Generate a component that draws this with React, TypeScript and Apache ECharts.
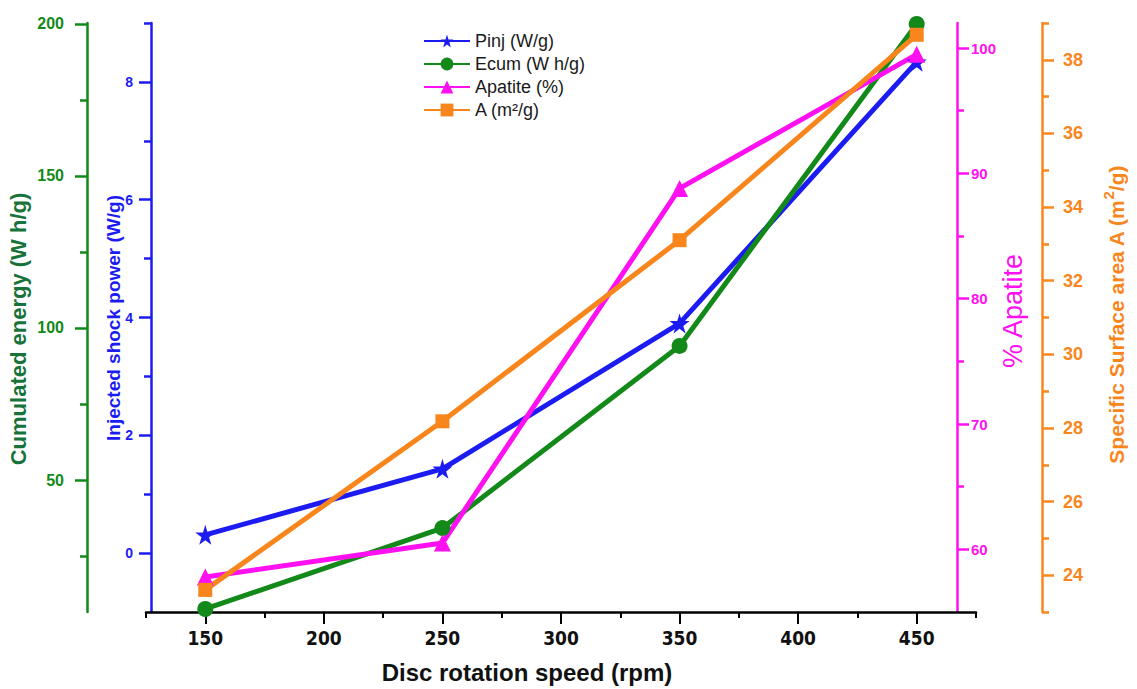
import React, { useEffect, useRef } from "react";
import * as echarts from "echarts";

const speeds = [150, 250, 350, 450];
const pinj = [0.31, 1.43, 3.9, 8.34];
const ecum = [7.6, 34.2, 94.1, 200];
const apatite = [57.8, 60.5, 88.8, 99.5];
const area = [23.6, 28.18, 33.1, 38.68];

const xLabels = [150, 200, 250, 300, 350, 400, 450];
const xMinor = [125, 175, 225, 275, 325, 375, 425, 475];
const pinjMajor = [0, 2, 4, 6, 8];
const pinjMinor = [1, 3, 5, 7, 9];
const ecumMajor = [50, 100, 150, 200];
const ecumMinor = [25, 75, 125, 175];
const apatiteMajor = [60, 70, 80, 90, 100];
const apatiteMinor = [65, 75, 85, 95];
const areaMajor = [24, 26, 28, 30, 32, 34, 36, 38];
const areaMinor = [23, 25, 27, 29, 31, 33, 35, 37, 39];

const BLUE = "#1c1cf2";
const GREEN = "#13891a";
const MAGENTA = "#ff10f0";
const ORANGE = "#f8861c";
const FONT = "'Liberation Sans', Arial, sans-serif";
const NARROW = "'Liberation Sans Narrow', 'DejaVu Sans Condensed', 'Liberation Sans', sans-serif";

const STAR = "path://M50,0 L61,35 L98,35 L68,57 L79,91 L50,70 L21,91 L32,57 L2,35 L39,35 Z";

function pairs(ys: number[]) {
  return speeds.map((x, i) => [x, ys[i]]);
}

function yAxisPair(opts: {
  position: string;
  offset: number;
  min: number;
  max: number;
  color: string;
  major: number[];
  minor: number[];
  margin: number;
  fontSize: number;
  fontWeight: string;
}) {
  const main = {
    type: "value",
    position: opts.position,
    offset: opts.offset,
    min: opts.min,
    max: opts.max,
    splitLine: { show: false },
    axisLine: { show: true, lineStyle: { color: opts.color, width: 2.5 } },
    axisTick: {
      show: true,
      length: 12,
      customValues: opts.major,
      lineStyle: { color: opts.color, width: 2.5 },
    },
    axisLabel: {
      show: true,
      customValues: opts.major,
      margin: opts.margin,
      color: opts.color,
      fontSize: opts.fontSize,
      fontWeight: opts.fontWeight,
      fontFamily: FONT,
    },
  };
  const minor = {
    type: "value",
    position: opts.position,
    offset: opts.offset,
    min: opts.min,
    max: opts.max,
    splitLine: { show: false },
    axisLine: { show: false },
    axisTick: {
      show: true,
      length: 7,
      customValues: opts.minor,
      lineStyle: { color: opts.color, width: 2.5 },
    },
    axisLabel: { show: false },
  };
  return [main, minor];
}

export default function App() {
  const ref = useRef<HTMLDivElement>(null);
  useEffect(() => {
    document.body.style.margin = "0";
    if (!ref.current) return;
    const chart = echarts.init(ref.current, null, { renderer: "svg" });
    const yAxes = [
      ...yAxisPair({ position: "left", offset: -5, min: -1, max: 9, color: BLUE, major: pinjMajor, minor: pinjMinor, margin: 18, fontSize: 14, fontWeight: "bold" }),
      ...yAxisPair({ position: "left", offset: 59, min: 6.6, max: 200.3, color: GREEN, major: ecumMajor, minor: ecumMinor, margin: 23, fontSize: 16, fontWeight: "bold" }),
      ...yAxisPair({ position: "right", offset: -19, min: 55, max: 102, color: MAGENTA, major: apatiteMajor, minor: apatiteMinor, margin: 14, fontSize: 15, fontWeight: "bold" }),
      ...yAxisPair({ position: "right", offset: 66, min: 23, max: 39, color: ORANGE, major: areaMajor, minor: areaMinor, margin: 21, fontSize: 18, fontWeight: "bold" }),
    ];
    const lineSeries = (name: string, data: number[], axis: number, color: string, symbol: string, size: number) => ({
      name,
      type: "line",
      yAxisIndex: axis,
      data: pairs(data),
      symbol,
      symbolSize: size,
      lineStyle: { color, width: 5 },
      itemStyle: { color },
      emphasis: { disabled: true },
    });
    chart.setOption({
      animation: false,
      backgroundColor: "#ffffff",
      grid: { left: 146, right: 161, top: 23, bottom: 77, containLabel: false },
      legend: {
        orient: "vertical",
        left: 418,
        top: 27,
        itemWidth: 46,
        itemHeight: 16,
        itemGap: 5,
        textStyle: { fontSize: 18, lineHeight: 18, fontFamily: FONT, color: "#1a1a1a" },
        data: ["Pinj (W/g)", "Ecum (W h/g)", "Apatite (%)", "A (m²/g)"],
      },
      xAxis: [
        {
          type: "value",
          min: 125,
          max: 475,
          splitLine: { show: false },
          axisLine: { show: true, onZero: false, lineStyle: { color: "#000", width: 2.5 } },
          axisTick: { show: true, length: 12, customValues: xLabels, lineStyle: { color: "#000", width: 2 } },
          axisLabel: {
            customValues: xLabels,
            margin: 16,
            color: "#111",
            fontSize: 19,
            fontWeight: "bold",
            fontFamily: NARROW,
          },
        },
        {
          type: "value",
          position: "bottom",
          min: 125,
          max: 475,
          splitLine: { show: false },
          axisLine: { show: false, onZero: false },
          axisTick: { show: true, length: 6, customValues: xMinor, lineStyle: { color: "#000", width: 2 } },
          axisLabel: { show: false },
        },
      ],
      yAxis: yAxes,
      graphic: [
        {
          type: "text",
          x: 18,
          y: 329,
          rotation: Math.PI / 2,
          style: { text: "Cumulated energy (W h/g)", fill: "#17733a", font: `bold 22px ${FONT}`, align: "center", verticalAlign: "middle" },
        },
        {
          type: "text",
          x: 113,
          y: 318,
          rotation: Math.PI / 2,
          style: { text: "Injected shock power (W/g)", fill: BLUE, font: `bold 19px ${FONT}`, align: "center", verticalAlign: "middle" },
        },
        {
          type: "text",
          x: 1013,
          y: 311,
          rotation: Math.PI / 2,
          style: { text: "% Apatite", fill: MAGENTA, font: `27px ${FONT}`, align: "center", verticalAlign: "middle" },
        },
        {
          type: "text",
          x: 1116,
          y: 315,
          rotation: Math.PI / 2,
          style: {
            text: "Specific Surface area A (m{sup|2}/g)",
            fill: ORANGE,
            font: `bold 21px ${FONT}`,
            align: "center",
            verticalAlign: "middle",
            rich: {
              sup: { fontSize: 15, fontWeight: "bold", fontFamily: FONT, fill: ORANGE, verticalAlign: "top", lineHeight: 30 },
            },
          },
        },
        {
          type: "text",
          x: 527,
          y: 672,
          style: { text: "Disc rotation speed (rpm)", fill: "#111", font: `bold 24px ${FONT}`, align: "center", verticalAlign: "middle" },
        },
      ],
      series: [
        lineSeries("Pinj (W/g)", pinj, 0, BLUE, STAR, 20),
        lineSeries("Ecum (W h/g)", ecum, 2, GREEN, "circle", 16),
        lineSeries("Apatite (%)", apatite, 4, MAGENTA, "triangle", 17),
        lineSeries("A (m²/g)", area, 6, ORANGE, "rect", 14),
      ],
    });
    return () => chart.dispose();
  }, []);
  return <div ref={ref} style={{ width: 1137, height: 689 }} />;
}
